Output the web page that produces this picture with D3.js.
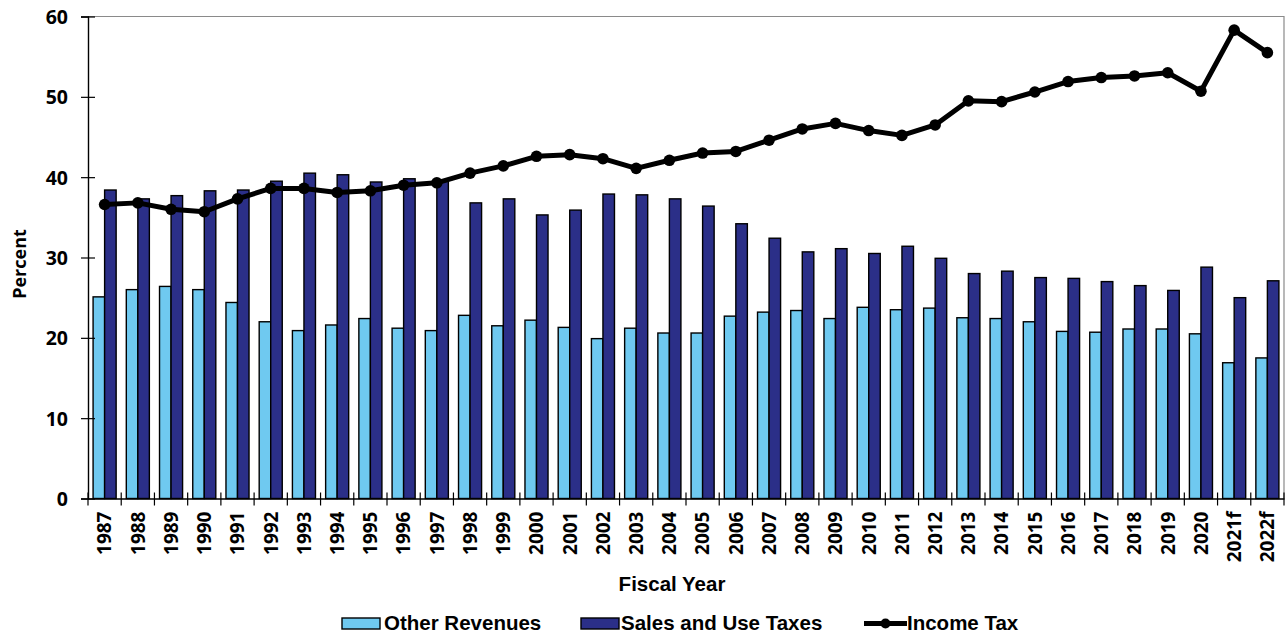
<!DOCTYPE html>
<html>
<head>
<meta charset="utf-8">
<script src="https://cdn.jsdelivr.net/npm/d3@7"></script>
<style>
  html, body { margin: 0; padding: 0; background: #fff; }
  svg { display: block; }
</style>
</head>
<body>
<svg id="chart" width="1287" height="637"></svg>
<script>
// Fiscal years shown on the x axis
const years = ["1987","1988","1989","1990","1991","1992","1993","1994","1995","1996",
  "1997","1998","1999","2000","2001","2002","2003","2004","2005","2006",
  "2007","2008","2009","2010","2011","2012","2013","2014","2015","2016",
  "2017","2018","2019","2020","2021f","2022f"];

// Share of general fund revenue, percent
const otherRevenues = [25.1,26.0,26.4,26.0,24.4,22.0,20.9,21.6,22.4,21.2,
  20.9,22.8,21.5,22.2,21.3,19.9,21.2,20.6,20.6,22.7,
  23.2,23.4,22.4,23.8,23.5,23.7,22.5,22.4,22.0,20.8,
  20.7,21.1,21.1,20.5,16.9,17.5];
const salesUseTaxes = [38.4,37.3,37.7,38.3,38.4,39.5,40.5,40.3,39.4,39.8,
  39.6,36.8,37.3,35.3,35.9,37.9,37.8,37.3,36.4,34.2,
  32.4,30.7,31.1,30.5,31.4,29.9,28.0,28.3,27.5,27.4,
  27.0,26.5,25.9,28.8,25.0,27.1];
const incomeTax = [36.6,36.8,36.0,35.7,37.3,38.6,38.6,38.1,38.3,39.0,
  39.3,40.5,41.4,42.6,42.8,42.3,41.1,42.1,43.0,43.2,
  44.6,46.0,46.7,45.8,45.2,46.5,49.5,49.4,50.6,51.9,
  52.4,52.6,53.0,50.7,58.3,55.5];

const yTicks = [0, 10, 20, 30, 40, 50, 60];

const seriesNames = ["Other Revenues", "Sales and Use Taxes", "Income Tax"];
const colors = { other: "#6fc9f0", sales: "#2b2f88", line: "#000" };

const svg = d3.select("#chart");
const plot = { left: 88, right: 1284, top: 16.5, bottom: 498.5 };

const x = d3.scaleBand().domain(years).range([plot.left, plot.right]).padding(0);
const y = d3.scaleLinear().domain([0, 60]).range([plot.bottom, plot.top]);

const bw = x.bandwidth();
const barW = bw * 0.347;
const barOffset = (bw - 2 * barW) / 2;

const tickFont = "'Open Sans', 'DejaVu Sans', sans-serif";
const textFont = "'Liberation Sans', Arial, sans-serif";

// Plot frame: light grey top and right edges
svg.append("path")
  .attr("d", `M${plot.left},${plot.top}H${plot.right}V${plot.bottom}`)
  .attr("fill", "none").attr("stroke", "#8a8a8a").attr("stroke-width", 1.2);

// Bars
const g = svg.append("g");
g.selectAll("rect.other").data(years).join("rect")
  .attr("class", "other")
  .attr("x", (d) => x(d) + barOffset)
  .attr("y", (d, i) => y(otherRevenues[i]))
  .attr("width", barW)
  .attr("height", (d, i) => y(0) - y(otherRevenues[i]))
  .attr("fill", colors.other).attr("stroke", "#000").attr("stroke-width", 1.4);

g.selectAll("rect.sales").data(years).join("rect")
  .attr("class", "sales")
  .attr("x", (d) => x(d) + barOffset + barW)
  .attr("y", (d, i) => y(salesUseTaxes[i]))
  .attr("width", barW)
  .attr("height", (d, i) => y(0) - y(salesUseTaxes[i]))
  .attr("fill", colors.sales).attr("stroke", "#000").attr("stroke-width", 1.4);

// Y axis
const yAxis = svg.append("g")
  .attr("transform", `translate(${plot.left},0)`)
  .call(d3.axisLeft(y).tickValues(yTicks).tickSize(7).tickPadding(13));
yAxis.select(".domain").attr("stroke", "#000").attr("stroke-width", 1.4);
yAxis.selectAll(".tick line").attr("x1", -7).attr("x2", 7).attr("stroke", "#000").attr("stroke-width", 1.2);
yAxis.selectAll(".tick text")
  .attr("font-family", tickFont).attr("font-weight", 700).attr("font-size", "19.5px")
  .attr("fill", "#000").attr("dy", "0.36em");

// X axis: labels at band centres, ticks at band boundaries
const xAxis = svg.append("g")
  .attr("transform", `translate(0,${plot.bottom})`)
  .call(d3.axisBottom(x).tickSize(0).tickPadding(0));
xAxis.select(".domain").attr("stroke", "#000").attr("stroke-width", 1.4);
xAxis.selectAll(".tick text")
  .attr("font-family", tickFont).attr("font-weight", 700).attr("font-size", "19px")
  .attr("fill", "#000")
  .attr("text-anchor", "end")
  .attr("transform", "translate(0,13) rotate(-90)")
  .attr("x", 0).attr("y", 0).attr("dy", "0.36em");

const boundaries = years.map((d) => x(d)).concat([x.range()[1]]);
svg.append("g").selectAll("line").data(boundaries).join("line")
  .attr("x1", (d) => d).attr("x2", (d) => d)
  .attr("y1", plot.bottom - 6).attr("y2", plot.bottom + 7)
  .attr("stroke", "#000").attr("stroke-width", 1.2);

// Income tax line with markers
const line = d3.line()
  .x((d, i) => x(years[i]) + bw / 2)
  .y((d) => y(d));
svg.append("path").datum(incomeTax)
  .attr("d", line)
  .attr("fill", "none").attr("stroke", colors.line)
  .attr("stroke-width", 5).attr("stroke-linejoin", "round");
svg.append("g").selectAll("circle").data(incomeTax).join("circle")
  .attr("cx", (d, i) => x(years[i]) + bw / 2)
  .attr("cy", (d) => y(d))
  .attr("r", 5.8).attr("fill", colors.line);

// Axis titles
svg.append("text")
  .attr("transform", "translate(20,264) rotate(-90)")
  .attr("text-anchor", "middle").attr("dy", "0.36em")
  .attr("font-family", tickFont).attr("font-weight", 700).attr("font-size", "18px")
  .text("Percent");

svg.append("text")
  .attr("x", 672).attr("y", 591)
  .attr("text-anchor", "middle")
  .attr("font-family", textFont).attr("font-weight", 700).attr("font-size", "20.5px")
  .text("Fiscal Year");

// Legend
const legend = svg.append("g").attr("font-family", textFont)
  .attr("font-weight", 700).attr("font-size", "20.5px");
const legendY = 630;
legend.append("rect").attr("x", 342).attr("y", 618).attr("width", 38).attr("height", 11)
  .attr("fill", colors.other).attr("stroke", "#000").attr("stroke-width", 1.4);
legend.append("text").attr("x", 384).attr("y", legendY).text(seriesNames[0]);
legend.append("rect").attr("x", 581).attr("y", 618).attr("width", 38).attr("height", 11)
  .attr("fill", colors.sales).attr("stroke", "#000").attr("stroke-width", 1.4);
legend.append("text").attr("x", 621).attr("y", legendY).text(seriesNames[1]);
legend.append("line").attr("x1", 864).attr("x2", 907).attr("y1", 623.5).attr("y2", 623.5)
  .attr("stroke", "#000").attr("stroke-width", 5);
legend.append("circle").attr("cx", 885.5).attr("cy", 623.5).attr("r", 5).attr("fill", "#000");
legend.append("text").attr("x", 907).attr("y", legendY).text(seriesNames[2]);
</script>
</body>
</html>
